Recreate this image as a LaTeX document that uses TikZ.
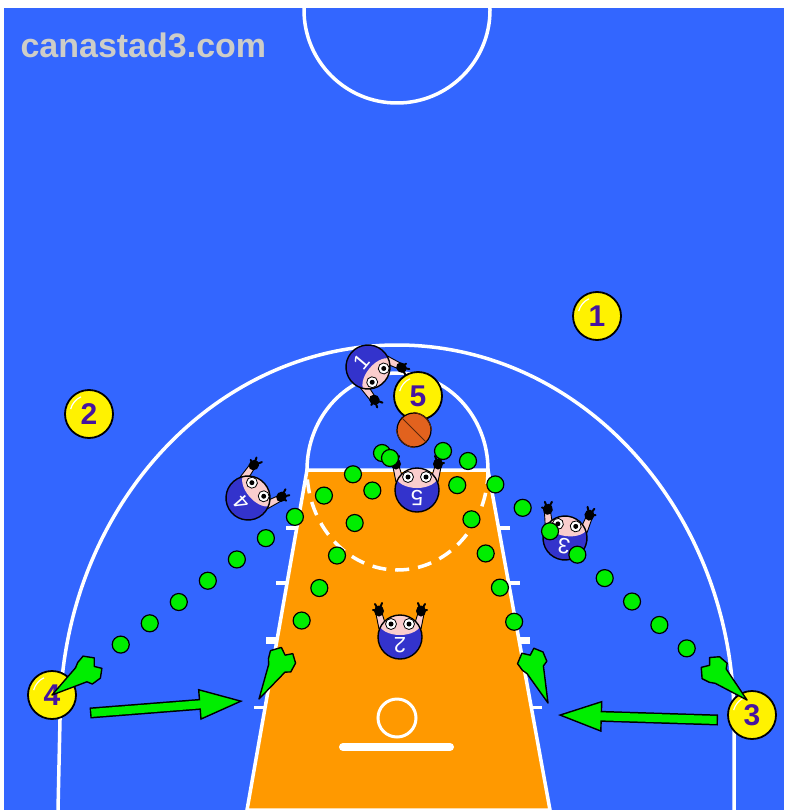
\documentclass[tikz,border=0pt]{standalone}
\usepackage{fontspec}
\setmainfont{Liberation Sans}
\usetikzlibrary{arrows.meta,calc}

\definecolor{courtblue}{RGB}{51,102,255}
\definecolor{paint}{RGB}{255,153,0}
\definecolor{passgreen}{RGB}{0,238,0}
\definecolor{numviolet}{RGB}{70,20,160}
\definecolor{jersey}{RGB}{51,51,204}
\definecolor{skin}{RGB}{250,205,205}
\definecolor{leather}{RGB}{226,98,30}
\definecolor{logogray}{RGB}{205,205,200}

\begin{document}
\begin{tikzpicture}[
    x=1pt, y=-1pt,
    line/.style={white, line width=3.5pt},
    attacker/.style={circle, fill=yellow, draw=black, line width=1.8pt, minimum size=48pt, inner sep=0pt,
      text=numviolet, font=\fontsize{30}{30}\selectfont\bfseries,
      path picture={\draw[white, line width=1.2pt] (path picture bounding box.center) ++(195:19)
        arc[start angle=195, end angle=245, radius=19];}},
    ball/.style={circle, fill=leather, draw=black, line width=1.2pt, minimum size=34pt, inner sep=0pt},
    seam/.style={black!60!leather, line width=1pt},
    dot/.style={fill=passgreen, draw=black, line width=1.2pt},
    runline/.style={black, line width=11pt, -{Triangle[length=44pt, width=31pt, fill=passgreen, line width=1.4pt]}},
    runfill/.style={passgreen, line width=8pt, shorten >=42pt, shorten <=1.4pt},
    pics/bolt/.style={code={
      \draw[fill=passgreen, line width=1.4pt, line join=round]
        (0,0) -- (-36,-10) -- (-39,-15) -- (-49,-15) -- (-56,-8) -- (-51,-2)
        -- (-56,5) -- (-48,13) -- (-40,11) -- (-35,8) -- cycle;
    }},
    pics/defender/.style={code={
      % raised arms and hands
      \foreach \s in {-1,1}{
        \draw[fill=skin, line width=0.9pt, line join=round]
          (\s*14,-11) -- (\s*18,-24) -- (\s*24,-23) -- (\s*21,-8) -- cycle;
        \fill (\s*21,-26) ellipse (5 and 5.5);
        \draw[line width=2pt, line cap=round]
          (\s*21,-26) -- (\s*18,-34) (\s*21,-26) -- (\s*25,-33) (\s*21,-26) -- (\s*27,-27);
      }
      % head, face and eyes
      \fill[jersey] (0,0) circle (22);
      \begin{scope}
        \clip (0,0) circle (22);
        \fill[skin] (0,-14) ellipse (21 and 12);
      \end{scope}
      \draw[line width=1.4pt] (0,0) circle (22);
      \foreach \s in {-1,1}{
        \draw[fill=white, line width=0.8pt] (\s*9,-13) circle (5.5);
        \fill (\s*9,-13) circle (2.5);
      }
      \node[text=white, font=\fontsize{22}{22}\selectfont, rotate=180, transform shape] (-num) at (0,8) {#1};
    }},
  ]
  \useasboundingbox (0,0) rectangle (784,810);

  % ===== court =====
  \fill[white] (0,0) rectangle (784,810);
  \fill[courtblue] (4,8) rectangle (784,810);
  \begin{scope}
    \clip (4,8) rectangle (784,810);
    \draw[line] (397,10) circle (93);
    % three-point line
    \draw[line] (58,810) -- (60,720) arc[start angle=180, end angle=360, x radius=337, y radius=375] -- (734,810);
    % the paint
    \coordinate (ltl) at (307,470);
    \coordinate (ltr) at (488,470);
    \coordinate (lbr) at (550,810);
    \coordinate (lbl) at (247,810);
    \filldraw[fill=paint, draw=white, line width=3.5pt] (ltl) -- (ltr) -- (lbr) -- (lbl) -- cycle;
    % free-throw circle, dashed inside the lane
    \draw[line] (ltr) arc[start angle=0, end angle=-180, x radius=90.5, y radius=97];
    \draw[line, dash pattern=on 14pt off 9pt] (ltr) arc[start angle=0, end angle=180, x radius=90.5, y radius=100];
    % lane marks
    \foreach \t/\w in {0.171/3.5, 0.332/3.5, 0.5/7, 0.699/3.5}{
      \draw[line, line width=\w pt] ($(ltl)!\t!(lbl)$) -- ++(-11,0);
      \draw[line, line width=\w pt] ($(ltr)!\t!(lbr)$) -- ++(11,0);
    }
    % rim and backboard
    \draw[line, line width=3pt] (397,718) circle (19);
    \draw[line, line width=8pt, line cap=round] (343,747) -- (450,747);
  \end{scope}

  % ===== defence =====
  \pic[rotate=-130] (d1) at (368,367) {defender=1};
  \pic[rotate=-49]  (d4) at (248,498) {defender=4};
  \pic              (d5) at (417,490) {defender=5};
  \pic[rotate=-8]   (d3) at (565,538) {defender=3};
  \pic              (d2) at (400,637) {defender=2};

  % ===== attack =====
  \node[attacker] (p1) at (597,316) {1};
  \node[attacker] (p2) at (89,414)  {2};
  \node[attacker] (p3) at (752,715) {3};
  \node[attacker] (p4) at (52,695)  {4};
  \node[attacker] (p5) at (418,396) {5};

  \node[ball] (ball) at (414,430) {};
  \draw[seam] (ball.north west) -- (ball.south east);
  \draw[seam] (ball.west) to[bend right=35] (ball.south);
  \draw[seam] (ball.north) to[bend left=35] (ball.east);

  % ===== moves =====
  \coordinate (arcL)     at (382,453);
  \coordinate (laneL)    at (390,458);
  \coordinate (laneLend) at (259,699);
  \coordinate (arcR)     at (468,461);
  \coordinate (arcRend)  at (747,700);
  \coordinate (laneR)    at (443,451);
  \coordinate (laneRend) at (548,703);

  \foreach \k in {0,36,...,324} \draw[dot] ($(arcL)!\k pt!(p4.center)$) circle (8.5);
  \path (arcL) -- (p4.center) pic[pos=1, sloped, allow upside down] {bolt};

  \foreach \k in {0,37,...,185} \draw[dot] ($(laneL)!\k pt!(laneLend)$) circle (8.5);
  \path (laneL) -- (laneLend) pic[pos=1, sloped, allow upside down] {bolt};

  \foreach \k in {0,36,...,288} \draw[dot] ($(arcR)!\k pt!(arcRend)$) circle (8.5);
  \path (arcR) -- (arcRend) pic[pos=1, sloped, allow upside down] {bolt};

  \foreach \k in {0,37,...,185} \draw[dot] ($(laneR)!\k pt!(laneRend)$) circle (8.5);
  \path (laneR) -- (laneRend) pic[pos=1, sloped, allow upside down] {bolt};

  % cuts to the block
  \coordinate (run4) at (90,713);
  \coordinate (cut4) at (243,701);
  \coordinate (run3) at (718,720);
  \coordinate (cut3) at (558,715);
  \draw[runline] (run4) -- (cut4);
  \draw[runfill] (run4) -- (cut4);
  \draw[runline] (run3) -- (cut3);
  \draw[runfill] (run3) -- (cut3);

  \node[anchor=west, text=logogray, font=\fontsize{34}{34}\selectfont\bfseries] (logo) at (17,45) {canastad3.com};
\end{tikzpicture}
\end{document}
